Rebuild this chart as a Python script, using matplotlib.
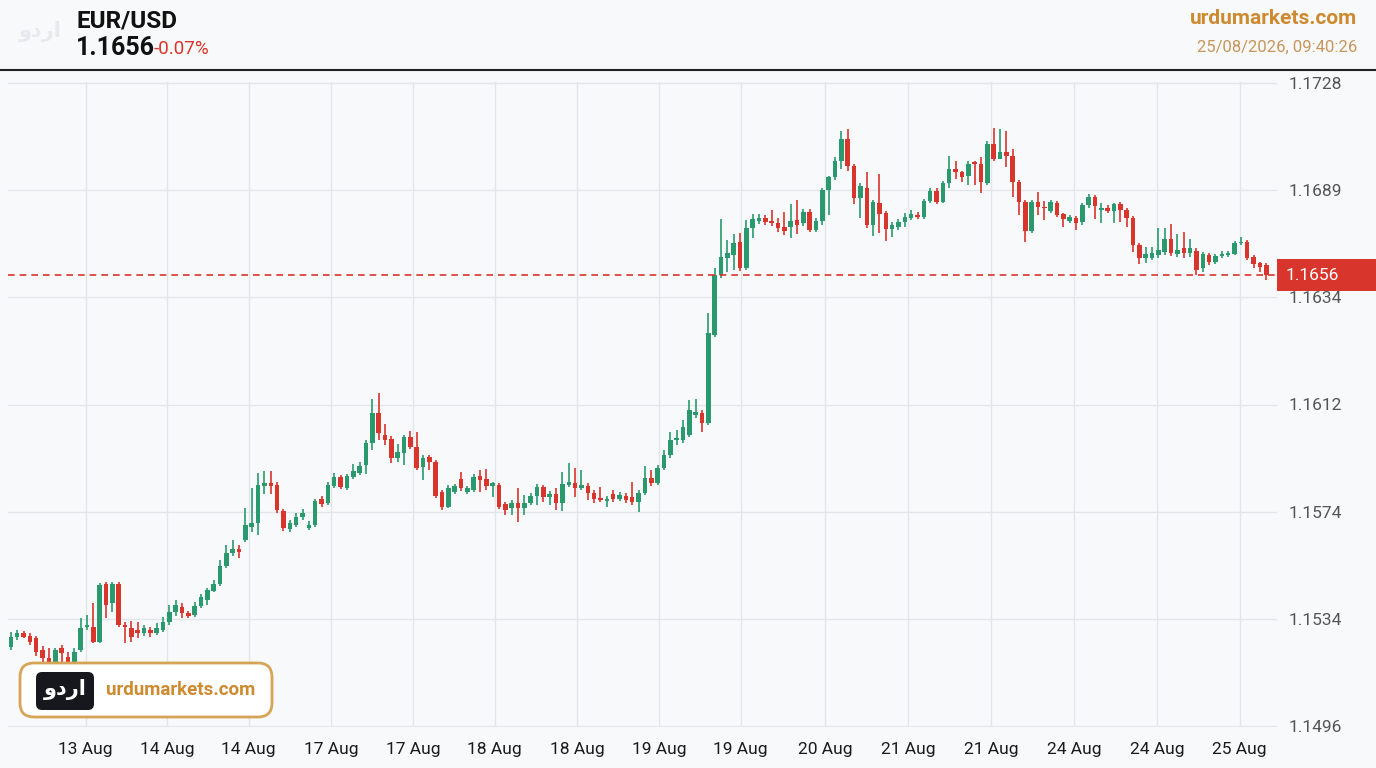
import numpy as np
import matplotlib
matplotlib.use("Agg")
import matplotlib.pyplot as plt
from matplotlib.patches import FancyBboxPatch, Rectangle
from matplotlib.transforms import IdentityTransform

# ---------------- data ----------------
opens = [1.15248,1.15284,1.15295,1.15287,1.15280,1.15237,1.15208,1.15190,1.15241,1.15212,
1.15194,1.15237,1.15320,1.15320,1.15266,1.15475,1.15406,1.15475,1.15327,1.15316,
1.15309,1.15298,1.15309,1.15298,1.15309,1.15338,1.15374,1.15392,1.15370,1.15363,
1.15395,1.15417,1.15449,1.15475,1.15539,1.15586,1.15601,1.15633,1.15680,1.15694,
1.15827,1.15838,1.15831,1.15737,1.15673,1.15687,1.15716,1.15676,1.15687,1.15781,
1.15766,1.15827,1.15860,1.15820,1.15860,1.15874,1.15902,1.15981,1.16089,1.16010,
1.15996,1.15927,1.15945,1.16003,1.15967,1.15895,1.15931,1.15913,1.15806,1.15752,
1.15806,1.15853,1.15806,1.15813,1.15863,1.15853,1.15827,1.15831,1.15763,1.15748,
1.15766,1.15748,1.15766,1.15791,1.15824,1.15788,1.15799,1.15766,1.15831,1.15838,
1.15820,1.15827,1.15802,1.15784,1.15773,1.15799,1.15781,1.15791,1.15788,1.15770,
1.15802,1.15856,1.15838,1.15891,1.15938,1.15992,1.15992,1.16010,1.16082,1.16089,
1.16053,1.16370,1.16586,1.16647,1.16658,1.16705,1.16611,1.16755,1.16780,1.16791,
1.16780,1.16773,1.16759,1.16759,1.16784,1.16773,1.16813,1.16748,1.16780,1.16892,
1.16938,1.16999,1.17078,1.16981,1.16863,1.16899,1.16766,1.16845,1.16809,1.16752,
1.16759,1.16777,1.16791,1.16802,1.16795,1.16852,1.16888,1.16849,1.16917,1.16970,
1.16956,1.16945,1.16992,1.16988,1.16917,1.17060,1.17006,1.17031,1.17017,1.16921,
1.16849,1.16744,1.16849,1.16831,1.16816,1.16845,1.16806,1.16780,1.16791,1.16777,
1.16838,1.16867,1.16820,1.16827,1.16816,1.16842,1.16820,1.16791,1.16694,1.16647,
1.16647,1.16658,1.16669,1.16716,1.16662,1.16683,1.16665,1.16672,1.16611,1.16658,
1.16633,1.16655,1.16658,1.16662,1.16701,1.16705,1.16651,1.16629,1.16622]

closes = [1.15284,1.15295,1.15284,1.15266,1.15230,1.15208,1.15190,1.15237,1.15226,1.15194,
1.15230,1.15316,1.15327,1.15266,1.15471,1.15399,1.15475,1.15327,1.15320,1.15284,
1.15298,1.15316,1.15298,1.15316,1.15338,1.15374,1.15399,1.15367,1.15359,1.15395,
1.15428,1.15453,1.15475,1.15539,1.15586,1.15601,1.15590,1.15687,1.15694,1.15831,
1.15838,1.15827,1.15741,1.15676,1.15694,1.15716,1.15730,1.15687,1.15773,1.15763,
1.15831,1.15860,1.15824,1.15863,1.15881,1.15898,1.15981,1.16089,1.16017,1.15992,
1.15927,1.15949,1.16003,1.15967,1.15891,1.15927,1.15913,1.15791,1.15752,1.15820,
1.15827,1.15820,1.15820,1.15860,1.15849,1.15827,1.15838,1.15752,1.15741,1.15766,
1.15748,1.15766,1.15791,1.15824,1.15788,1.15799,1.15766,1.15835,1.15842,1.15820,
1.15831,1.15802,1.15781,1.15777,1.15781,1.15781,1.15795,1.15777,1.15770,1.15802,
1.15856,1.15838,1.15891,1.15938,1.15992,1.15999,1.16039,1.16100,1.16093,1.16053,
1.16377,1.16586,1.16651,1.16665,1.16701,1.16611,1.16755,1.16788,1.16791,1.16777,
1.16773,1.16755,1.16744,1.16780,1.16766,1.16813,1.16748,1.16780,1.16892,1.16938,
1.16999,1.17078,1.16981,1.16863,1.16906,1.16766,1.16849,1.16806,1.16752,1.16766,
1.16777,1.16795,1.16806,1.16795,1.16852,1.16888,1.16849,1.16917,1.16970,1.16956,
1.16941,1.16988,1.16985,1.16921,1.17060,1.17006,1.17028,1.17017,1.16921,1.16849,
1.16744,1.16849,1.16831,1.16827,1.16849,1.16802,1.16788,1.16795,1.16773,1.16838,
1.16867,1.16834,1.16827,1.16816,1.16842,1.16820,1.16791,1.16694,1.16647,1.16662,
1.16665,1.16676,1.16716,1.16665,1.16676,1.16665,1.16683,1.16604,1.16662,1.16633,
1.16655,1.16662,1.16665,1.16701,1.16705,1.16647,1.16626,1.16615,1.16586]

highs = [1.15302,1.15309,1.15305,1.15298,1.15287,1.15251,1.15244,1.15244,1.15255,1.15230,
1.15244,1.15352,1.15363,1.15406,1.15478,1.15482,1.15482,1.15482,1.15338,1.15341,
1.15338,1.15327,1.15320,1.15331,1.15356,1.15399,1.15417,1.15403,1.15377,1.15410,
1.15439,1.15460,1.15489,1.15561,1.15615,1.15633,1.15615,1.15748,1.15820,1.15874,
1.15881,1.15881,1.15842,1.15745,1.15705,1.15730,1.15745,1.15701,1.15781,1.15791,
1.15842,1.15874,1.15867,1.15871,1.15906,1.15913,1.15992,1.16140,1.16161,1.16050,
1.16006,1.15978,1.16010,1.16024,1.16021,1.15938,1.15938,1.15920,1.15813,1.15831,
1.15835,1.15878,1.15827,1.15871,1.15885,1.15888,1.15842,1.15838,1.15770,1.15777,
1.15820,1.15795,1.15802,1.15835,1.15831,1.15809,1.15820,1.15878,1.15909,1.15891,
1.15885,1.15838,1.15813,1.15824,1.15791,1.15813,1.15806,1.15802,1.15842,1.15813,
1.15898,1.15885,1.15902,1.15956,1.16021,1.16028,1.16064,1.16136,1.16140,1.16100,
1.16449,1.16611,1.16788,1.16712,1.16734,1.16737,1.16784,1.16806,1.16806,1.16802,
1.16820,1.16791,1.16813,1.16842,1.16856,1.16824,1.16824,1.16791,1.16899,1.16945,
1.17010,1.17107,1.17114,1.16988,1.16917,1.16959,1.16856,1.16949,1.16816,1.16777,
1.16788,1.16809,1.16820,1.16813,1.16860,1.16899,1.16899,1.16924,1.17017,1.16999,
1.16963,1.16999,1.16999,1.17013,1.17071,1.17118,1.17114,1.17107,1.17042,1.16928,
1.16856,1.16856,1.16885,1.16852,1.16856,1.16852,1.16809,1.16802,1.16798,1.16845,
1.16878,1.16874,1.16845,1.16838,1.16845,1.16849,1.16827,1.16798,1.16701,1.16687,
1.16687,1.16755,1.16755,1.16770,1.16734,1.16741,1.16716,1.16683,1.16669,1.16665,
1.16662,1.16672,1.16672,1.16708,1.16723,1.16712,1.16658,1.16633,1.16629]

lows = [1.15237,1.15273,1.15277,1.15255,1.15215,1.15187,1.15172,1.15183,1.15194,1.15183,
1.15187,1.15230,1.15309,1.15259,1.15259,1.15352,1.15374,1.15320,1.15262,1.15266,
1.15280,1.15287,1.15284,1.15291,1.15302,1.15327,1.15359,1.15352,1.15349,1.15356,
1.15388,1.15399,1.15446,1.15467,1.15532,1.15575,1.15568,1.15626,1.15662,1.15651,
1.15799,1.15799,1.15730,1.15665,1.15662,1.15680,1.15705,1.15669,1.15680,1.15752,
1.15759,1.15820,1.15817,1.15813,1.15853,1.15867,1.15871,1.15956,1.15992,1.15974,
1.15909,1.15913,1.15902,1.15960,1.15885,1.15849,1.15885,1.15784,1.15741,1.15748,
1.15799,1.15809,1.15799,1.15806,1.15806,1.15813,1.15788,1.15745,1.15723,1.15723,
1.15698,1.15723,1.15759,1.15759,1.15770,1.15759,1.15741,1.15737,1.15824,1.15788,
1.15813,1.15777,1.15766,1.15770,1.15752,1.15770,1.15773,1.15766,1.15759,1.15734,
1.15795,1.15827,1.15831,1.15885,1.15927,1.15974,1.15981,1.16003,1.16071,1.16021,
1.16046,1.16363,1.16575,1.16597,1.16604,1.16600,1.16604,1.16719,1.16770,1.16766,
1.16762,1.16741,1.16730,1.16719,1.16734,1.16762,1.16741,1.16741,1.16766,1.16802,
1.16928,1.16970,1.16963,1.16842,1.16791,1.16755,1.16726,1.16737,1.16708,1.16723,
1.16748,1.16759,1.16784,1.16788,1.16788,1.16845,1.16842,1.16845,1.16899,1.16934,
1.16921,1.16910,1.16910,1.16881,1.16910,1.16999,1.17003,1.16974,1.16867,1.16802,
1.16705,1.16737,1.16802,1.16784,1.16809,1.16795,1.16759,1.16773,1.16748,1.16766,
1.16827,1.16788,1.16773,1.16809,1.16773,1.16777,1.16759,1.16669,1.16626,1.16629,
1.16640,1.16647,1.16658,1.16654,1.16651,1.16647,1.16651,1.16586,1.16597,1.16622,
1.16626,1.16647,1.16651,1.16658,1.16694,1.16640,1.16611,1.16597,1.16568]

date_labels = ["13 Aug", "14 Aug", "14 Aug", "17 Aug", "17 Aug", "18 Aug", "18 Aug",
               "19 Aug", "19 Aug", "20 Aug", "21 Aug", "21 Aug", "24 Aug", "24 Aug", "25 Aug"]
date_label_pos = [11.8, 24.6, 37.5, 50.5, 63.4, 76.3, 89.3, 102.2, 115.1, 128.4,
                  141.5, 154.6, 167.7, 180.8, 193.8]

price_tick_labels = ["1.1496", "1.1534", "1.1574", "1.1612", "1.1634", "1.1689", "1.1728"]
price_min, price_max = 1.1496, 1.1728

symbol = "EUR/USD"
last_price_text = "1.1656"
change_text = "-0.07%"
site = "urdumarkets.com"
timestamp = "25/08/2026, 09:40:26"
logo_word = "اردو"

# ---------------- style ----------------
BG = "#f8f9fa"
GRID = "#e2e5e9"
GREEN = "#2a9a6e"
RED = "#d8352c"
ORANGE = "#cd8a2f"
FONT = "Roboto"

W, H = 1376, 768
fig = plt.figure(figsize=(W / 100, H / 100), dpi=100, facecolor=BG)

# axes: x 8..1277 px, y 82..727 px (from top)
ax = fig.add_axes([8 / W, (H - 727) / H, (1277 - 8) / W, (727 - 82) / H])
ax.set_facecolor(BG)

O = np.array(opens); C = np.array(closes); Hh = np.array(highs); L = np.array(lows)
n = len(O)
x = np.arange(n)
up = C >= O
cols = np.where(up, GREEN, RED)

ax.vlines(x, L, Hh, colors=cols, linewidth=1.2, zorder=3)
body_bottom = np.minimum(O, C)
body_h = np.maximum(np.abs(C - O), 0.00004)
ax.bar(x, body_h, bottom=body_bottom, width=0.72, color=cols, linewidth=0, zorder=4)

ax.set_xlim(-0.45, 199.7)
ax.set_ylim(price_min - 0.00002, price_max + 0.00002)

yt = np.linspace(price_min, price_max, len(price_tick_labels))
ax.set_yticks(yt)
ax.set_yticklabels(price_tick_labels)
ax.set_xticks(date_label_pos)
ax.set_xticklabels(date_labels)
ax.grid(True, color=GRID, linewidth=1.0, zorder=0)
ax.set_axisbelow(True)
for s in ax.spines.values():
    s.set_visible(False)
ax.yaxis.tick_right()
ax.tick_params(axis="y", length=0, pad=8, labelsize=12.5, labelcolor="#555555")
ax.tick_params(axis="x", length=0, pad=11, labelsize=12.5, labelcolor="#1a1a1a")
for lab in ax.get_xticklabels() + ax.get_yticklabels():
    lab.set_fontfamily(FONT)

# current price line
last_close = C[-1]
ax.axhline(last_close, color=RED, linestyle=(0, (4, 3)), linewidth=1.2, zorder=5)
y_disp = ax.transData.transform((0, last_close))[1]
fig.add_artist(Rectangle((1277, y_disp - 16), 99, 32, transform=IdentityTransform(),
                         facecolor=RED, edgecolor="none", zorder=10))
fig.text(1286, y_disp, last_price_text, transform=IdentityTransform(), color="white",
         fontsize=12.5, family=FONT, va="center", ha="left", zorder=11)

# header
fig.add_artist(plt.Line2D([0, 1], [(H - 70) / H] * 2, transform=fig.transFigure,
                          color="#222222", linewidth=1.5))
fig.text(40 / W, 1 - 31 / H, logo_word[::-1], color="#e6e9ed", fontsize=15,
         fontweight="bold", family=["DejaVu Sans"], ha="center", va="center")
fig.text(76 / W, 1 - 21 / H, symbol, fontsize=17.5, fontweight="bold", family=FONT,
         color="#111111", ha="left", va="center")
fig.text(76 / W, 1 - 48 / H, last_price_text, fontsize=18, fontweight="bold",
         family=FONT, color="#111111", ha="left", va="center")
fig.text(154 / W, 1 - 49 / H, change_text, fontsize=13.5, family=FONT, color=RED,
         ha="left", va="center")
fig.text(1357 / W, 1 - 18 / H, site, fontsize=15, fontweight="bold", family=FONT,
         color=ORANGE, ha="right", va="center")
fig.text(1357 / W, 1 - 47 / H, timestamp, fontsize=12, family=FONT,
         color="#c8955a", ha="right", va="center")

# bottom-left badge
fig.add_artist(FancyBboxPatch((20, H - 717), 252, 54, boxstyle="round,pad=0,rounding_size=14",
                              transform=IdentityTransform(), facecolor="white",
                              edgecolor="#d6a457", linewidth=2, zorder=12))
fig.add_artist(FancyBboxPatch((36, H - 710), 58, 38, boxstyle="round,pad=0,rounding_size=6",
                              transform=IdentityTransform(), facecolor="#16181d",
                              edgecolor="none", zorder=13))
fig.text(65, H - 690, logo_word[::-1], transform=IdentityTransform(), color="white",
         fontsize=15, fontweight="bold", family=["DejaVu Sans"], ha="center", va="center",
         zorder=14)
fig.text(106, H - 690, site, transform=IdentityTransform(), color=ORANGE, fontsize=13.5,
         fontweight="bold", family=FONT, ha="left", va="center", zorder=14)

fig.savefig("out.png", dpi=100, facecolor=BG)
